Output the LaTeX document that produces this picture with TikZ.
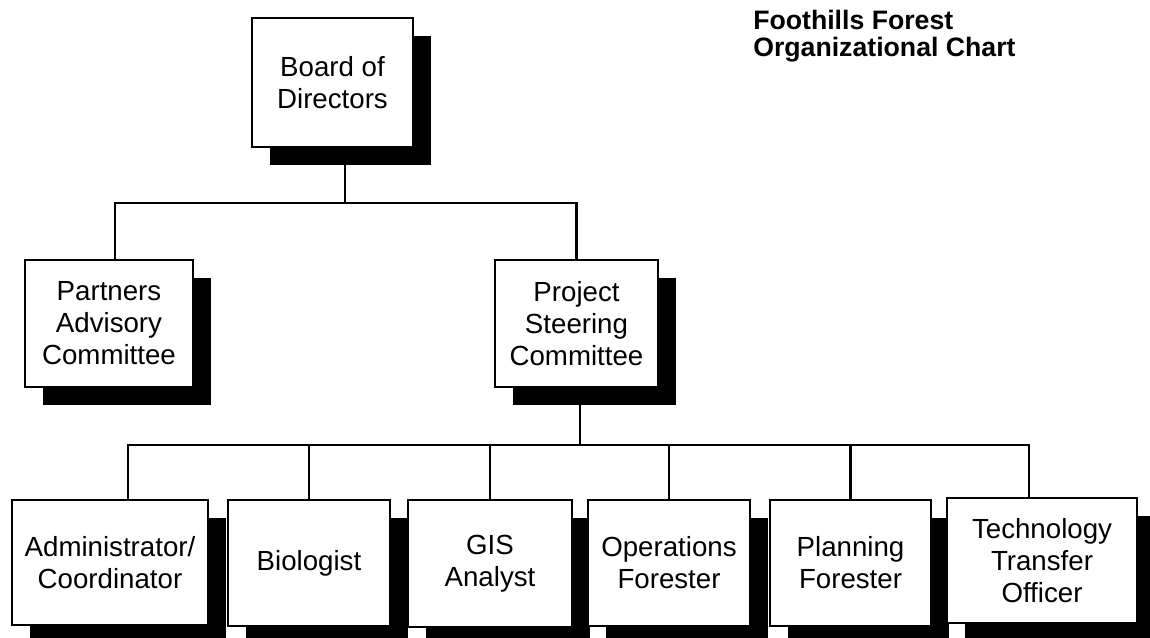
\documentclass[tikz,border=0pt]{standalone}
\usepackage{fontspec}
\setmainfont{Liberation Sans}
\usetikzlibrary{shadows}
\begin{document}
\begin{tikzpicture}[x=0.75pt,y=-0.75pt,
  orgbox/.style={draw=black, line width=1.7pt, fill=white, inner sep=0pt, align=center,
    font=\fontsize{20.75}{24}\selectfont,
    drop shadow={shadow xshift=13.5pt, shadow yshift=-13.5pt, fill=black, opacity=1}},
  conn/.style={draw=black, line width=1.8pt},
  titletext/.style={font=\bfseries\fontsize{20}{20.25}\selectfont, align=left, inner sep=0pt}]
\useasboundingbox (0,0) rectangle (1150,638);
\clip (0,0) rectangle (1150,638);
% nodes
\node[orgbox, minimum width=120.75pt, minimum height=96.75pt] (board) at (332.5,82.5) {Board of\\Directors};
\node[orgbox, minimum width=126pt, minimum height=95.25pt] (partners) at (109,323.5) {Partners\\Advisory\\Committee};
\node[orgbox, minimum width=122.25pt, minimum height=95.25pt] (project) at (576.5,323.5) {Project\\Steering\\Committee};
\node[orgbox, minimum width=147pt, minimum height=93.75pt] (admin) at (110,562.5) {Administrator/\\Coordinator};
\node[orgbox, minimum width=121.5pt, minimum height=94.5pt] (bio) at (309,563) {Biologist};
\node[orgbox, minimum width=123pt, minimum height=95.25pt] (gis) at (490,563.5) {GIS\\Analyst};
\node[orgbox, minimum width=121.5pt, minimum height=94.5pt] (ops) at (669,563) {Operations\\Forester};
\node[orgbox, minimum width=120.75pt, minimum height=94.5pt] (plan) at (850.5,563) {Planning\\Forester};
\node[orgbox, minimum width=142.5pt, minimum height=93.75pt] (tech) at (1042,560.5) {Technology\\Transfer\\Officer};
\node[titletext, anchor=north west] (title) at (753,10) {Foothills Forest\\Organizational Chart};
% connectors
\coordinate (topbus) at (345,203);
\coordinate (lowbus) at (580,445);
\draw[conn] (board.south -| topbus) -- (topbus);
\draw[conn] ([xshift=4.5pt]partners.north) |- (topbus) -| (project.north);
\draw[conn] (project.south -| lowbus) -- (lowbus);
\draw[conn] ([xshift=13.5pt]admin.north) |- ([xshift=-9.75pt]tech.north |- lowbus) -- ([xshift=-9.75pt]tech.north);
\draw[conn] (bio.north) -- (bio.north |- lowbus);
\draw[conn] (gis.north) -- (gis.north |- lowbus);
\draw[conn] (ops.north) -- (ops.north |- lowbus);
\draw[conn] (plan.north) -- (plan.north |- lowbus);
\end{tikzpicture}
\end{document}
